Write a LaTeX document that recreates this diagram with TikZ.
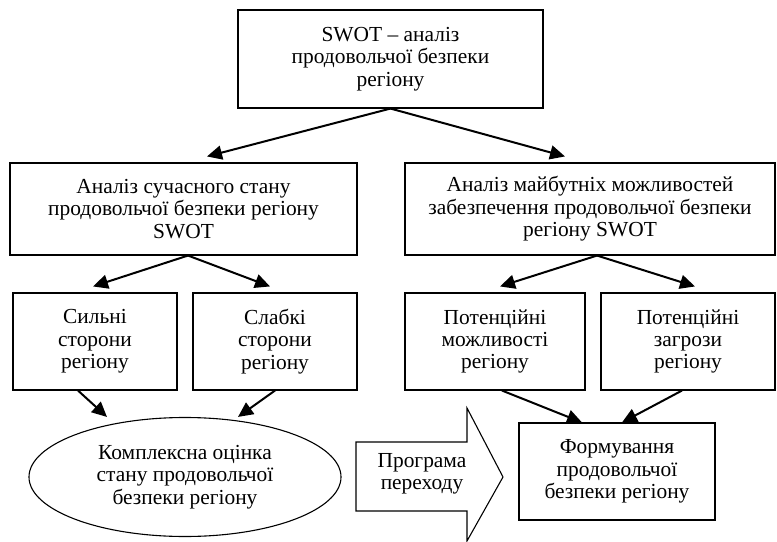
\documentclass[tikz,border=0pt]{standalone}
\usepackage{fontspec}
\setmainfont{Liberation Serif}
\usetikzlibrary{arrows.meta,shapes.geometric}

\tikzset{
  box/.style={draw, line width=1.1bp, inner sep=0pt, align=center,
    font=\fontsize{21.5}{22.5}\selectfont},
  oval/.style={box, ellipse},
  link/.style={line width=2bp, -{Triangle[length=15bp,width=14bp]}},
  bigarrow/.style={draw, line width=1.1bp, line join=miter},
  label/.style={inner sep=0pt, align=center, font=\fontsize{21.5}{22.5}\selectfont}
}

\begin{document}
\begin{tikzpicture}[x=1bp, y=-1bp]
  \useasboundingbox (0,0) rectangle (777,542);

  % top level
  \node[box, minimum width=305bp, minimum height=98bp] (top) at (390.5,59)
    {SWOT -- аналіз\\продовольчої безпеки\\регіону};

  % second level
  \node[box, minimum width=347bp, minimum height=92bp] (cur) at (183.5,209)
    {Аналіз сучасного стану\\продовольчої безпеки регіону\\SWOT};
  \node[box, minimum width=370bp, minimum height=92bp] (fut) at (590,209)
    {Аналіз майбутніх можливостей\\забезпечення продовольчої безпеки\\регіону SWOT};

  % third level
  \node[box, minimum width=164bp, minimum height=97bp] (str) at (95,341.5)
    {Сильні\\сторони\\регіону};
  \node[box, minimum width=164bp, minimum height=97bp] (wea) at (275,341.5)
    {Слабкі\\сторони\\регіону};
  \node[box, minimum width=180bp, minimum height=97bp] (opp) at (495,341.5)
    {Потенційні\\можливості\\регіону};
  \node[box, minimum width=174bp, minimum height=97bp] (thr) at (688,341.5)
    {Потенційні\\загрози\\регіону};

  % results
  \node[oval, minimum width=312bp, minimum height=119bp] (eval) at (185,477)
    {Комплексна оцінка\\стану продовольчої\\безпеки регіону};
  \node[box, minimum width=196bp, minimum height=97bp] (form) at (617,471.5)
    {Формування\\продовольчої\\безпеки регіону};

  % transition block arrow
  \draw[bigarrow] (356,442) -- (467,442) -- (467,408) -- (503,477)
    -- (467,541) -- (467,511) -- (356,511) -- cycle;
  \node[label] (prog) at (422,474) {Програма\\переходу};

  % connectors
  \draw[link] (top.south) -- ([xshift=23.5bp, yshift=6bp]cur.north);
  \draw[link] (top.south) -- ([xshift=-25bp, yshift=6bp]fut.north);

  \draw[link] ([xshift=4.5bp]cur.south) -- ([xshift=-2bp, yshift=6bp]str.north);
  \draw[link] ([xshift=4.5bp]cur.south) -- ([xshift=-5bp, yshift=6bp]wea.north);

  \draw[link] ([xshift=7bp]fut.south) -- ([xshift=5bp, yshift=6bp]opp.north);
  \draw[link] ([xshift=7bp]fut.south) -- ([xshift=7bp, yshift=6bp]thr.north);

  \draw[link] ([xshift=-17bp]str.south) -- ([xshift=-78bp]eval.north);
  \draw[link] (wea.south) -- ([xshift=53bp]eval.north);

  \draw[link] ([xshift=7bp]opp.south) -- ([xshift=-35bp]form.north);
  \draw[link] ([xshift=-6bp]thr.south) -- ([xshift=5bp]form.north);
\end{tikzpicture}
\end{document}
